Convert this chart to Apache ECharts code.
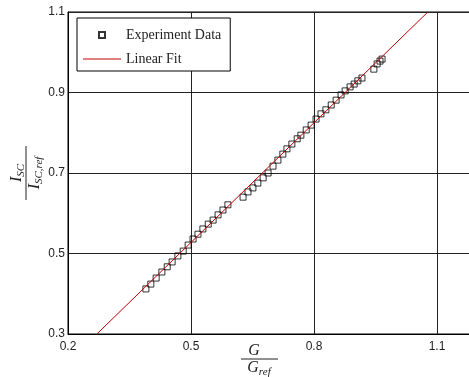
<!DOCTYPE html>
<html>
<head>
<meta charset="utf-8">
<script src="https://cdn.jsdelivr.net/npm/echarts@6/dist/echarts.min.js"></script>
<style>
  html, body { margin: 0; padding: 0; background: #fff; }
  #chart { width: 469px; height: 377px; }
</style>
</head>
<body>
<div id="chart"></div>
<script>
// Normalised irradiance G/G_ref against normalised short-circuit current I_SC/I_SC,ref
const gRatio = [
  0.390, 0.402, 0.415, 0.429, 0.442, 0.454, 0.468, 0.481, 0.493, 0.505,
  0.517, 0.529, 0.542, 0.554, 0.566, 0.578, 0.590, 0.627, 0.639, 0.651,
  0.663, 0.676, 0.688, 0.700, 0.712, 0.724, 0.734, 0.746, 0.759, 0.768,
  0.781, 0.793, 0.805, 0.817, 0.829, 0.842, 0.854, 0.866, 0.876, 0.888,
  0.898, 0.907, 0.917, 0.946, 0.954, 0.961, 0.966
];
const iscRatio = [
  0.412, 0.424, 0.439, 0.454, 0.467, 0.479, 0.494, 0.506, 0.521, 0.536,
  0.548, 0.561, 0.573, 0.583, 0.596, 0.608, 0.621, 0.640, 0.653, 0.663,
  0.675, 0.688, 0.700, 0.717, 0.732, 0.747, 0.760, 0.772, 0.785, 0.794,
  0.807, 0.819, 0.834, 0.847, 0.857, 0.869, 0.881, 0.894, 0.904, 0.914,
  0.921, 0.929, 0.936, 0.958, 0.971, 0.978, 0.983
];

// Least-squares line through the measurements
const fitSlope = 0.991;
const fitIntercept = 0.032;

const xTicks = [0.2, 0.5, 0.8, 1.1];
const yTicks = [0.3, 0.5, 0.7, 0.9, 1.1];
const xRange = [0.2, 1.2];
const yRange = [0.3, 1.1];

const seriesNames = ['Experiment Data', 'Linear Fit'];

const points = gRatio.map((g, i) => [g, iscRatio[i]]);
// Fit line spans the full visible y range
const fitLine = [
  [(yRange[0] - fitIntercept) / fitSlope, yRange[0]],
  [(yRange[1] - fitIntercept) / fitSlope, yRange[1]]
];

const serif = '"Liberation Serif", "DejaVu Serif", serif';
const richMath = {
  v: { fontFamily: serif, fontStyle: 'italic', fontSize: 16, lineHeight: 20, verticalAlign: 'middle', fill: '#222' },
  s: { fontFamily: serif, fontStyle: 'italic', fontSize: 11, lineHeight: 20, verticalAlign: 'bottom', fill: '#222' }
};

const chart = echarts.init(document.getElementById('chart'), null, { renderer: 'canvas' });

chart.setOption({
  animation: false,
  backgroundColor: '#fff',
  grid: {
    left: 68, top: 12, width: 410, bottom: 43,
    outerBoundsMode: 'none',
    show: true, borderColor: '#000', borderWidth: 1, backgroundColor: 'transparent'
  },
  legend: {
    orient: 'vertical',
    left: 77, top: 18,
    padding: [10, 9, 5, 6],
    itemWidth: 38, itemHeight: 6, itemGap: 10,
    backgroundColor: '#fff',
    borderColor: '#000', borderWidth: 1, borderRadius: 0,
    textStyle: { fontFamily: serif, fontSize: 14, color: '#222' },
    data: [
      { name: seriesNames[0], icon: 'path://M0,0H10V10H0Z' },
      { name: seriesNames[1], icon: 'path://M0,0H38V1H0Z' }
    ]
  },
  xAxis: {
    type: 'value',
    min: xRange[0], max: xRange[1],
    axisLine: { show: true, lineStyle: { color: '#000', width: 1 } },
    axisTick: { show: false, customValues: xTicks },
    axisLabel: {
      customValues: xTicks, margin: 7,
      fontFamily: '"Liberation Sans", Arial, sans-serif', fontSize: 12, color: '#222',
      formatter: v => v.toFixed(1)
    },
    splitLine: { show: true, lineStyle: { color: '#222', width: 1 } }
  },
  yAxis: {
    type: 'value',
    min: yRange[0], max: yRange[1],
    axisLine: { show: true, lineStyle: { color: '#000', width: 1 } },
    axisTick: { show: false, customValues: yTicks },
    axisLabel: {
      customValues: yTicks, margin: 3,
      fontFamily: '"Liberation Sans", Arial, sans-serif', fontSize: 12, color: '#222',
      formatter: v => v.toFixed(1)
    },
    splitLine: { show: true, lineStyle: { color: '#222', width: 1 } }
  },
  series: [
    {
      name: seriesNames[0],
      type: 'scatter',
      symbol: 'rect',
      symbolSize: 6,
      itemStyle: { color: 'rgba(255,255,255,0)', borderColor: '#000', borderWidth: 1 },
      data: points,
      z: 3
    },
    {
      name: seriesNames[1],
      type: 'line',
      symbol: 'none',
      lineStyle: { color: '#c00000', width: 1 },
      itemStyle: { color: '#c00000' },
      data: fitLine,
      z: 4
    }
  ],
  graphic: [
    // x-axis title: G / G_ref
    {
      type: 'group', x: 258, y: 359,
      children: [
        { type: 'text', style: { text: '{v|G}', x: -4, y: -8, align: 'center', verticalAlign: 'middle', rich: richMath } },
        { type: 'line', shape: { x1: -17, y1: 0, x2: 20, y2: 0 }, style: { stroke: '#222', lineWidth: 1 } },
        { type: 'text', style: { text: '{v|G}{s|ref}', x: 1, y: 9, align: 'center', verticalAlign: 'middle', rich: richMath } }
      ]
    },
    // y-axis title: I_SC / I_SC,ref
    {
      type: 'group', x: 26, y: 173, rotation: Math.PI / 2,
      children: [
        { type: 'text', style: { text: '{v|I}{s|SC}', x: 0, y: -9, align: 'center', verticalAlign: 'middle', rich: richMath } },
        { type: 'line', shape: { x1: -27, y1: 0, x2: 27, y2: 0 }, style: { stroke: '#222', lineWidth: 1 } },
        { type: 'text', style: { text: '{v|I}{s|SC,ref}', x: 0, y: 9, align: 'center', verticalAlign: 'middle', rich: richMath } }
      ]
    }
  ]
});
</script>
</body>
</html>
